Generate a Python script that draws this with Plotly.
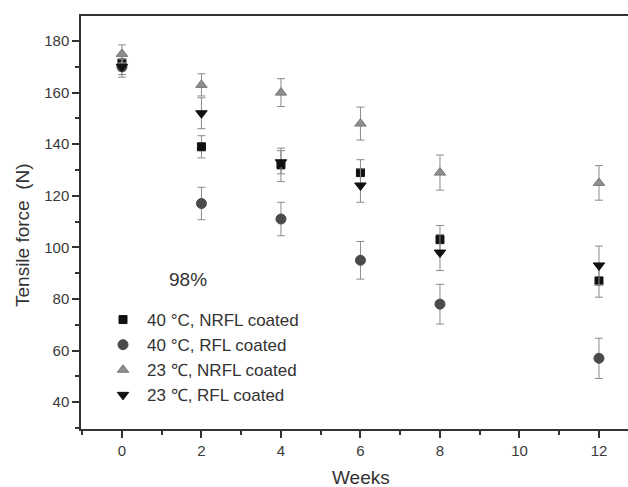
import plotly.graph_objects as go

weeks = [0, 2, 4, 6, 8, 12]

nrfl40 = [171.5, 139, 132, 129, 103, 87]
nrfl40_err = [3.0, 4.3, 6.5, 5.0, 5.5, 6.3]

rfl40 = [170, 117, 111, 95, 78, 57]
rfl40_err = [3.0, 6.3, 6.5, 7.3, 7.7, 7.8]

nrfl23 = [175, 163, 160, 148, 129, 125]
nrfl23_err = [3.5, 4.3, 5.4, 6.4, 6.8, 6.7]

rfl23 = [170, 152, 133, 124, 98, 93]
rfl23_err = [4.0, 6.0, 4.5, 6.5, 7.0, 7.5]

names = ["40 °C, NRFL coated", "40 °C, RFL coated", "23 ℃, NRFL coated", "23 ℃, RFL coated"]

FONT = "Arial, Liberation Sans, sans-serif"
ERRC = "#8a8a8a"

series = [
    (nrfl40, nrfl40_err, "square", 8, "#111111", "#111111"),
    (rfl40, rfl40_err, "circle", 10, "#4a4a4a", "#4a4a4a"),
    (nrfl23, nrfl23_err, "triangle-up", 10, "#8e8e8e", "#777777"),
    (rfl23, rfl23_err, "triangle-down", 10, "#111111", "#111111"),
]

fig = go.Figure()
for (vals, errs, sym, size, col, lcol), nm in zip(series, names):
    fig.add_trace(go.Scatter(
        x=weeks, y=vals, mode="markers", name=nm,
        marker=dict(symbol=sym, size=size, color=col, line=dict(color=lcol, width=1)),
        error_y=dict(type="data", array=errs, visible=True, color=ERRC, thickness=1, width=4),
    ))

W, H = 547, 413
def px(xp):
    return (xp - 81) / W
def py(yp):
    return (429 - yp) / H

fig.update_layout(
    width=628, height=487,
    margin=dict(l=81, r=0, t=16, b=58),
    paper_bgcolor="white", plot_bgcolor="white",
    font=dict(family=FONT, color="#333333"),
    showlegend=True,
    legend=dict(
        x=px(99), y=py(302), xanchor="left", yanchor="top",
        font=dict(size=17, color="#333333", family=FONT),
        bgcolor="rgba(0,0,0,0)", tracegroupgap=0, itemwidth=38,
    ),
    xaxis=dict(
        range=[-1.03, 12.73], tick0=0, dtick=2,
        showgrid=False, zeroline=False,
        showline=True, linecolor="#333333", linewidth=1.5, mirror=True,
        ticks="outside", ticklen=7, tickwidth=1.5, tickcolor="#333333",
        tickfont=dict(size=15, color="#3a3a3a"),
        minor=dict(dtick=1, tick0=1, ticks="outside", ticklen=4, tickwidth=1.5, tickcolor="#333333"),
    ),
    yaxis=dict(
        range=[29.6, 189.7], tick0=0, dtick=20,
        showgrid=False, zeroline=False,
        showline=True, linecolor="#333333", linewidth=1.5,
        ticks="outside", ticklen=7, tickwidth=1.5, tickcolor="#333333",
        tickfont=dict(size=15, color="#3a3a3a"),
        minor=dict(dtick=10, ticks="outside", ticklen=4, tickwidth=1.5, tickcolor="#333333"),
    ),
    annotations=[
        dict(text="Weeks", x=px(361), y=py(478), xref="paper", yref="paper", showarrow=False,
             xanchor="center", yanchor="middle", font=dict(size=19, color="#333333")),
        dict(text="Tensile force  (N)", textangle=-90, xref="paper", yref="paper",
             x=px(22), y=py(235), xanchor="center", yanchor="middle", showarrow=False,
             font=dict(size=19, color="#333333")),
        dict(text="98%", xref="paper", yref="paper", x=px(188), y=py(279),
             xanchor="center", yanchor="middle", showarrow=False,
             font=dict(size=19, color="#333333")),
    ],
)

fig.write_html("out.html")
